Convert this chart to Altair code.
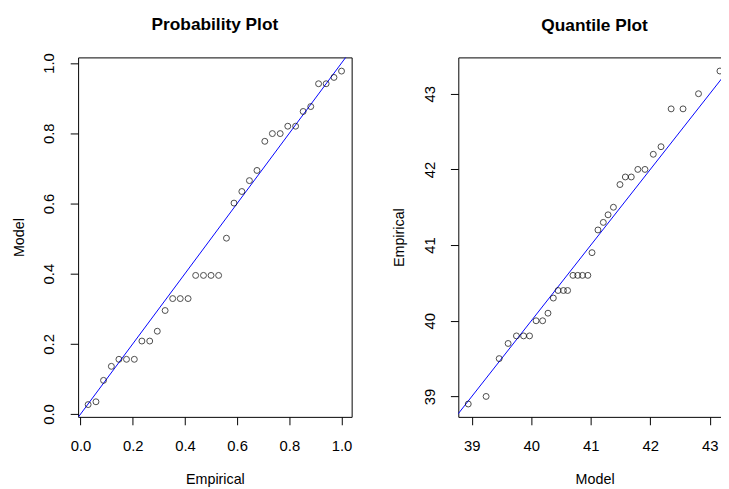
import altair as alt
import pandas as pd

# ---- data ----
pp_empirical = [0.029, 0.059, 0.088, 0.118, 0.147, 0.176, 0.206, 0.235, 0.265, 0.294,
                0.324, 0.353, 0.382, 0.412, 0.441, 0.471, 0.500, 0.529, 0.559, 0.588,
                0.618, 0.647, 0.676, 0.706, 0.735, 0.765, 0.794, 0.824, 0.853, 0.882,
                0.912, 0.941, 0.971, 1.000]
pp_model = [0.027, 0.035, 0.096, 0.136, 0.156, 0.156, 0.156, 0.208, 0.208, 0.236,
            0.295, 0.329, 0.329, 0.329, 0.395, 0.395, 0.395, 0.395, 0.501, 0.601,
            0.634, 0.665, 0.694, 0.777, 0.799, 0.799, 0.820, 0.820, 0.862, 0.876,
            0.941, 0.941, 0.959, 0.977]

qq_model = [38.94, 39.24, 39.46, 39.61, 39.75, 39.87, 39.97, 40.08, 40.19, 40.28,
            40.37, 40.45, 40.54, 40.61, 40.70, 40.78, 40.86, 40.95, 41.02, 41.12,
            41.21, 41.29, 41.38, 41.49, 41.58, 41.68, 41.79, 41.91, 42.05, 42.18,
            42.35, 42.55, 42.81, 43.17]
qq_empirical = [38.9, 39.0, 39.5, 39.7, 39.8, 39.8, 39.8, 40.0, 40.0, 40.1,
                40.3, 40.4, 40.4, 40.4, 40.6, 40.6, 40.6, 40.6, 40.9, 41.2,
                41.3, 41.4, 41.5, 41.8, 41.9, 41.9, 42.0, 42.0, 42.2, 42.3,
                42.8, 42.8, 43.0, 43.3]

pp_ticks = [0.0, 0.2, 0.4, 0.6, 0.8, 1.0]
qq_ticks = [39, 40, 41, 42, 43]

pp_line = [-0.1, 1.1]
qq_line = [38.5, 43.6]

pp_xdom = [-0.0094, 1.0388]
pp_ydom = [-0.008, 1.016]
qq_xdom = [38.773, 43.354]
qq_ydom = [38.73, 43.48]

FONT = "Liberation Sans"
W1, W2, H = 277, 276, 364


def xaxis(title, ticks, fmt):
    return alt.Axis(title=title, values=ticks, format=fmt, grid=False, domain=False,
                    tickSize=8, tickColor="black", tickWidth=1,
                    labelFont=FONT, labelFontSize=15, labelColor="black",
                    labelBaseline="alphabetic", labelPadding=26,
                    titleFont=FONT, titleFontSize=14.5, titleFontWeight="normal",
                    titleColor="black", titleBaseline="alphabetic",
                    titleY=67, labelFlush=False)


def yaxis(title, ticks, fmt):
    return alt.Axis(title=title, values=ticks, format=fmt, grid=False, domain=False,
                    tickSize=8, tickColor="black", tickWidth=1,
                    labelFont=FONT, labelFontSize=15, labelColor="black",
                    labelAngle=-90, labelAlign="center", labelBaseline="alphabetic",
                    labelPadding=16.5,
                    titleFont=FONT, titleFontSize=14.5, titleFontWeight="normal",
                    titleColor="black", titleAngle=-90, titleAlign="center",
                    titleBaseline="alphabetic", titleX=-55, titleY=H / 2,
                    labelFlush=False)


def panel(xs, ys, line, xdom, ydom, ticks, fmt, xtitle, ytitle, title, w, toff):
    pts = pd.DataFrame({"x": xs, "y": ys})
    ln = pd.DataFrame({"x": line, "y": line})
    xs_ = alt.Scale(domain=xdom, nice=False, zero=False)
    ys_ = alt.Scale(domain=ydom, nice=False, zero=False)
    lines = alt.Chart(ln).mark_line(color="blue", strokeWidth=1, clip=True).encode(
        x=alt.X("x:Q", scale=xs_, axis=xaxis(xtitle, ticks, fmt)),
        y=alt.Y("y:Q", scale=ys_, axis=yaxis(ytitle, ticks, fmt)),
    )
    points = alt.Chart(pts).mark_point(shape="circle", filled=False, color="black",
                                       strokeWidth=1, size=36, clip=True).encode(
        x=alt.X("x:Q", scale=xs_),
        y=alt.Y("y:Q", scale=ys_),
    )
    return alt.layer(lines, points).properties(
        width=w, height=H,
        title=alt.TitleParams(title, font=FONT, fontSize=17.5, fontWeight="bold",
                              color="black", anchor="middle", frame="group",
                              baseline="alphabetic", offset=toff),
    )


left = panel(pp_empirical, pp_model, pp_line, pp_xdom, pp_ydom, pp_ticks, ".1f",
             "Empirical", "Model", "Probability Plot", W1, 5.5)
right = panel(qq_model, qq_empirical, qq_line, qq_xdom, qq_ydom, qq_ticks, "d",
              "Model", "Empirical", "Quantile Plot", W2, 9.6)

chart = alt.hconcat(left, right, spacing=108, bounds="flush").properties(
    padding={"left": 3, "top": 4, "right": -11, "bottom": 0},
    background="white",
).configure_view(stroke="black", strokeWidth=1, fill="white")

chart.save("out.html", embed_options={"renderer": "svg", "actions": False})
